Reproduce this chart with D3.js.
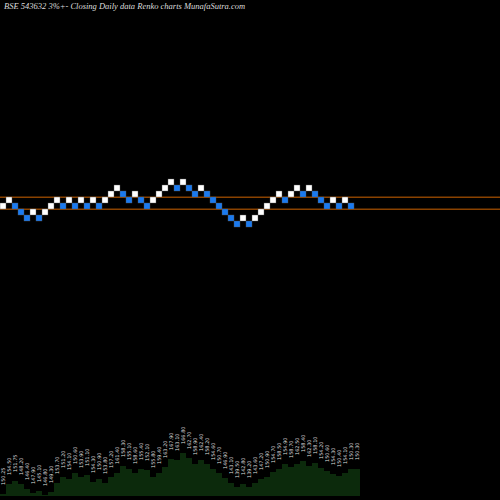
<!DOCTYPE html>
<html><head><meta charset="utf-8">
<script src="https://cdn.jsdelivr.net/npm/d3@7"></script>
<style>body{margin:0;background:#000}svg{display:block}</style>
</head><body>
<script>
const title = "BSE 543632  3%+-  Closing Daily data  Renko  charts MunafaSutra.com";
const levels = [0,1,0,-1,-2,-1,-2,-1,0,1,0,1,0,1,0,1,0,1,2,3,2,1,2,1,0,1,2,3,4,3,4,3,2,3,2,1,0,-1,-2,-3,-2,-3,-2,-1,0,1,2,1,2,3,2,3,2,1,0,1,0,1,0];
const colors = ["w","w","b","b","b","w","b","w","w","w","b","w","b","w","b","w","b","w","w","w","b","b","w","b","b","w","w","w","w","b","w","b","b","w","b","b","b","b","b","b","w","b","w","w","w","w","w","b","w","w","b","w","b","b","b","w","b","w","b"];
const volumes = [2,12,15,12,7,3,5,1,4,13,19,17,23,19,21,14,17,13,19,23,30,27,23,27,26,19,23,29,37,36,43,38,32,36,32,27,23,18,13,9,12,9,13,17,19,24,27,32,29,32,35,30,33,28,25,22,20,23,27,27];
const labels = ["150.25","154.50","151.75","148.20","146.40","147.90","145.10","146.80","149.30","153.70","151.20","154.10","150.60","153.90","151.10","154.30","150.90","153.80","157.20","161.40","158.30","155.10","158.60","155.40","152.10","155.80","159.40","163.20","167.90","163.10","166.80","162.70","158.90","162.40","158.20","154.60","150.70","146.90","143.10","139.50","142.80","139.20","143.60","147.20","150.90","154.70","158.50","154.90","158.70","162.50","158.40","162.30","158.10","154.20","150.60","154.30","150.40","154.10","150.30","150.30"];
const refLevels = [1,-1];

const W=500,H=500;
const svg=d3.select("body").append("svg").attr("width",W).attr("height",H).style("background","#000");
svg.append("text").attr("x",4).attr("y",9).attr("fill","#ddd").attr("font-family","Liberation Serif, serif").attr("font-style","italic").attr("font-size",8.5).text(title);

const x=d3.scaleLinear().domain([0,60]).range([0,360]);
const bw=x(1)-x(0);
const y=d3.scaleLinear().domain([0,1]).range([203,197]);
const bh=6;

svg.selectAll("rect.ref").data(refLevels).enter().append("rect")
  .attr("x",0).attr("width",W).attr("y",d=>Math.round(y(d))-0.5).attr("height",1.5)
  .attr("fill","#8a4200");

svg.selectAll("rect.b").data(levels).enter().append("rect")
  .attr("x",(d,i)=>x(i)).attr("y",d=>y(d)).attr("width",bw).attr("height",bh)
  .attr("fill",(d,i)=>colors[i]==="w"?"#ffffff":"#1a7af0").attr("stroke","#555").attr("stroke-width",0.4);

const vy=d3.scaleLinear().domain([0,50]).range([496,446]);
const pts=[];
volumes.forEach((v,i)=>{pts.push([x(i),v]);pts.push([x(i+1),v]);});
const area=d3.area().x(d=>d[0]).y0(496).y1(d=>vy(d[1]));
svg.append("path").datum(pts).attr("d",area).attr("fill","#0c2a0c");

svg.selectAll("text.lab").data(volumes).enter().append("text")
  .attr("transform",(d,i)=>`translate(${x(i)+bw/2+2},${vy(d)-9}) rotate(-90)`)
  .attr("fill","#ddd").attr("font-family","DejaVu Sans, sans-serif").attr("font-size",5)
  .text((d,i)=>labels[i]);
</script>
</body></html>
